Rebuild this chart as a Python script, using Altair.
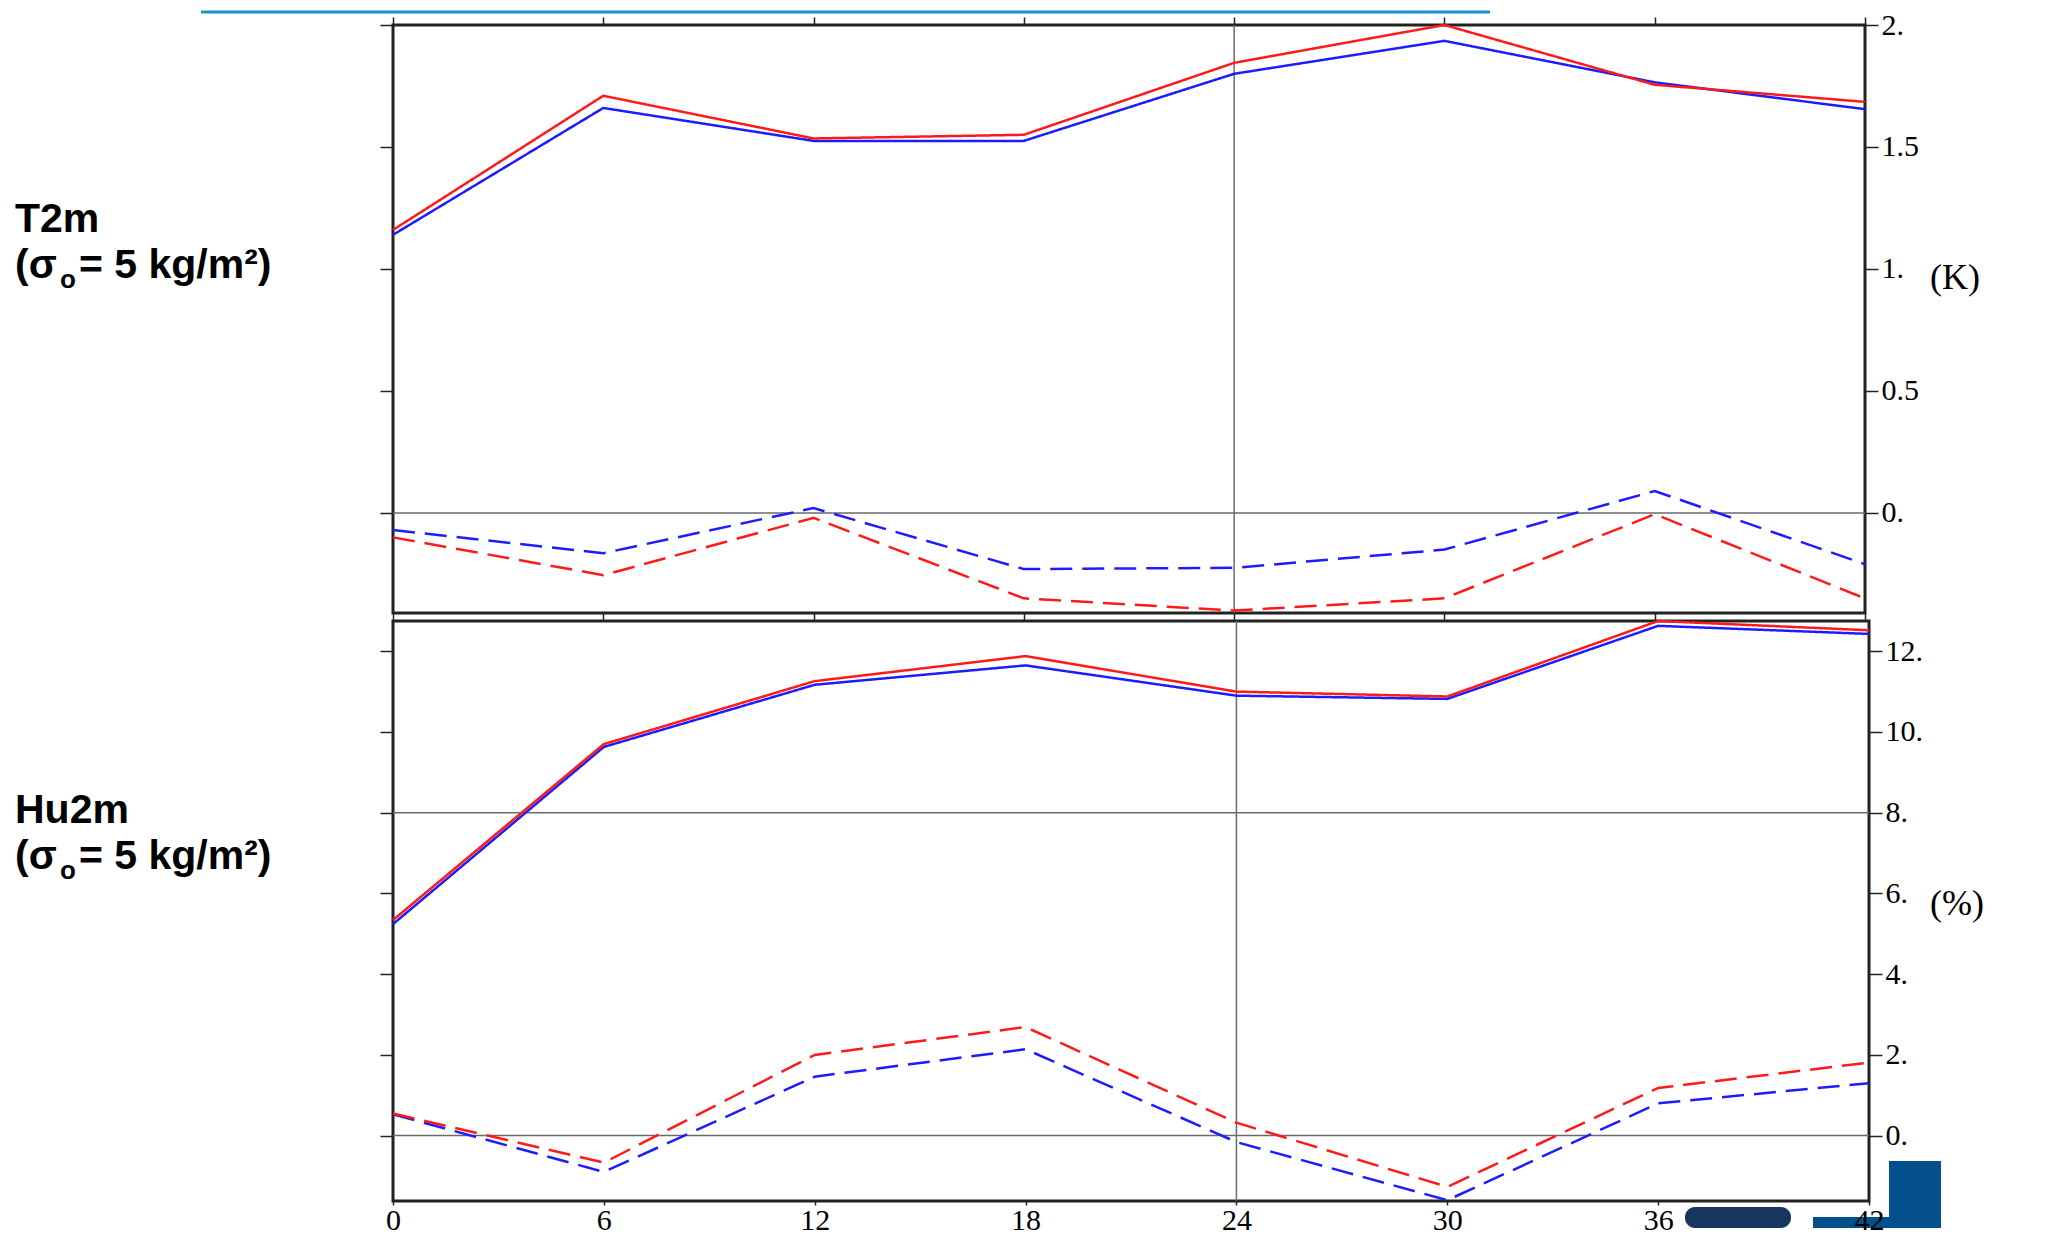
import altair as alt
import pandas as pd

# ---------------- data ----------------
hours = [0, 6, 12, 18, 24, 30, 36, 42]

t2m_red_solid = [1.16, 1.71, 1.535, 1.55, 1.845, 2.0, 1.755, 1.685]
t2m_blue_solid = [1.14, 1.66, 1.525, 1.525, 1.80, 1.935, 1.765, 1.655]
t2m_red_dash = [-0.10, -0.255, -0.02, -0.35, -0.40, -0.35, -0.005, -0.35]
t2m_blue_dash = [-0.07, -0.165, 0.02, -0.23, -0.225, -0.15, 0.09, -0.21]

hu2m_red_solid = [5.34, 9.70, 11.26, 11.88, 11.0, 10.88, 12.75, 12.52]
hu2m_blue_solid = [5.24, 9.63, 11.17, 11.65, 10.9, 10.82, 12.63, 12.43]
hu2m_red_dash = [0.55, -0.67, 2.0, 2.69, 0.32, -1.27, 1.18, 1.81]
hu2m_blue_dash = [0.53, -0.90, 1.46, 2.14, -0.16, -1.60, 0.80, 1.30]

t2m_ticks = [0, 0.5, 1, 1.5, 2]
hu2m_ticks = [0, 2, 4, 6, 8, 10, 12]
t2m_hgrid = [0]
hu2m_hgrid = [0, 8]
vgrid = [24]

panel_names = ["T2m", "Hu2m"]
sub_open = "(σ"
sub_o = "o"
sub_rest = "= 5 kg/m²)"
units = ["(K)", "(%)"]

runs = ["red", "blue"]
stats = ["solid", "dash"]

RED = "#ff1a1a"
BLUE = "#1c1cff"


def to_long(series):
    rows = []
    for run, stat, vals in series:
        for h, v in zip(hours, vals):
            rows.append({"hour": h, "value": v, "run": run, "stat": stat})
    return pd.DataFrame(rows)


t2m_df = to_long([
    ("blue", "solid", t2m_blue_solid),
    ("red", "solid", t2m_red_solid),
    ("blue", "dash", t2m_blue_dash),
    ("red", "dash", t2m_red_dash),
])
hu2m_df = to_long([
    ("blue", "solid", hu2m_blue_solid),
    ("red", "solid", hu2m_red_solid),
    ("blue", "dash", hu2m_blue_dash),
    ("red", "dash", hu2m_red_dash),
])

label_expr = "datum.value % 1 == 0 ? datum.value + '.' : '' + datum.value"
one = pd.DataFrame({"k": [0]})

AX = dict(domain=False, grid=False, tickColor="#222222", tickWidth=1.5,
          labelFont="Liberation Serif", labelFontSize=30, labelColor="black", title=None)


def panel(df, ydomain, yticks, hgrid, width, height, name, unit, is_bottom,
          y1, y2, uy):
    xs = alt.Scale(domain=[0, 42], nice=False, zero=False)
    ys = alt.Scale(domain=ydomain, nice=False, zero=False)

    x_axis = alt.Axis(orient="bottom", values=hours, labels=is_bottom, ticks=True,
                      tickSize=4 if is_bottom else 8, labelPadding=0, labelFlush=False,
                      zindex=2, format="d", **AX)
    y_axis = alt.Axis(orient="right", values=yticks, labelExpr=label_expr, tickSize=13,
                      labelPadding=3, labelOverlap=False, **AX)

    lines = alt.Chart(df).mark_line(strokeWidth=2.5).encode(
        x=alt.X("hour:Q", scale=xs, axis=x_axis),
        y=alt.Y("value:Q", scale=ys, axis=y_axis),
        color=alt.Color("run:N", scale=alt.Scale(domain=runs, range=[RED, BLUE]), legend=None),
        strokeDash=alt.StrokeDash("stat:N", scale=alt.Scale(domain=stats, range=[[1, 0], [22, 10]]),
                                  legend=None),
    )

    holder = alt.Chart(df).mark_point(opacity=0).encode(
        x=alt.X("hour:Q", scale=xs,
                axis=(None if is_bottom else alt.Axis(orient="top", values=hours, labels=False,
                                                       tickSize=8, **AX))),
        y=alt.Y("value:Q", scale=ys,
                axis=alt.Axis(orient="left", values=yticks, labels=False, tickSize=13, **AX)),
    )

    vrule = alt.Chart(pd.DataFrame({"hour": vgrid})).mark_rule(color="#6a6a6a", strokeWidth=1.5).encode(
        x=alt.X("hour:Q", scale=xs, axis=None)
    )
    hrule = alt.Chart(pd.DataFrame({"value": hgrid})).mark_rule(color="#6a6a6a", strokeWidth=1.5).encode(
        y=alt.Y("value:Q", scale=ys, axis=None)
    )

    base_txt = dict(font="Liberation Sans", fontWeight="bold", align="left", baseline="alphabetic",
                    color="black")
    tx = -378
    t1 = alt.Chart(one).mark_text(fontSize=41, **base_txt).encode(
        x=alt.value(tx), y=alt.value(y1), text=alt.value(name))
    t2 = alt.Chart(one).mark_text(fontSize=41, **base_txt).encode(
        x=alt.value(tx), y=alt.value(y2), text=alt.value(sub_open))
    t3 = alt.Chart(one).mark_text(fontSize=26, **base_txt).encode(
        x=alt.value(tx + 45), y=alt.value(y2 + 10), text=alt.value(sub_o))
    t4 = alt.Chart(one).mark_text(fontSize=41, **base_txt).encode(
        x=alt.value(tx + 64), y=alt.value(y2), text=alt.value(sub_rest))
    ut = alt.Chart(one).mark_text(fontSize=36, font="Liberation Serif", align="left",
                                  baseline="alphabetic", color="black").encode(
        x=alt.value(1537), y=alt.value(uy), text=alt.value(unit))

    layers = [vrule, hrule, lines, holder, t1, t2, t3, t4, ut]

    if is_bottom:
        deco_blue = alt.Chart(one).mark_rect(color="#03508c").encode(
            x=alt.value(1496), x2=alt.value(1548), y=alt.value(540), y2=alt.value(607))
        deco_band = alt.Chart(one).mark_rect(color="#03508c").encode(
            x=alt.value(1420), x2=alt.value(1496), y=alt.value(596), y2=alt.value(607))
        deco_logo = alt.Chart(one).mark_rect(color="#16365f", cornerRadius=10).encode(
            x=alt.value(1292), x2=alt.value(1398), y=alt.value(586), y2=alt.value(607))
        layers = [deco_blue, deco_band, deco_logo] + layers
    else:
        cyan = alt.Chart(one).mark_rule(color="#1b93c9", strokeWidth=3).encode(
            x=alt.value(-192), x2=alt.value(1097), y=alt.value(-13))
        layers = [cyan] + layers

    return alt.layer(*layers).properties(width=width, height=height).resolve_scale(
        x="shared", y="shared").resolve_axis(x="independent", y="independent")


top = panel(t2m_df, [-0.41, 2.0], t2m_ticks, t2m_hgrid, 1472, 588, panel_names[0], units[0], False,
            207, 253, 264)
bottom = panel(hu2m_df, [-1.62, 12.75], hu2m_ticks, hu2m_hgrid, 1476, 580, panel_names[1], units[1], True,
               202, 248, 294)

chart = alt.vconcat(top, bottom, spacing=8, bounds="flush").properties(
    padding={"left": 5, "top": 0, "right": 5, "bottom": 0},
    background="white",
).configure_view(stroke="#222222", strokeWidth=3).configure_axis(
    domain=False, grid=False, tickColor="#222222", tickWidth=1.5,
    labelFont="Liberation Serif", labelFontSize=30, labelColor="black",
)

chart.save("out.html", embed_options={"renderer": "svg", "actions": False})
